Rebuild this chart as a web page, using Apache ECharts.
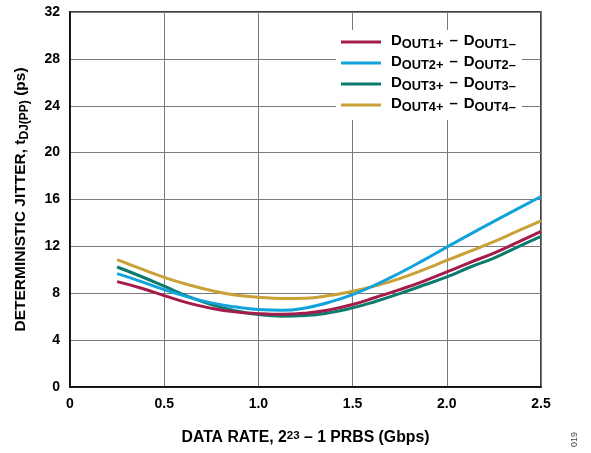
<!DOCTYPE html>
<html>
<head>
<meta charset="utf-8">
<script src="https://cdn.jsdelivr.net/npm/echarts@6/dist/echarts.min.js"></script>
<style>
html,body{margin:0;padding:0;background:#fff;}
#chart{width:591px;height:453px;}
</style>
</head>
<body>
<div id="chart"></div>
<script>
var xValues = [0.25, 0.375, 0.5, 0.625, 0.75, 0.875, 1.0, 1.125, 1.25, 1.375, 1.5, 1.625, 1.75, 1.875, 2.0, 2.125, 2.25, 2.375, 2.5];
var dout1 = [8.99, 8.45, 7.8, 7.18, 6.72, 6.41, 6.26, 6.2, 6.3, 6.58, 7.04, 7.66, 8.31, 9.02, 9.82, 10.64, 11.43, 12.34, 13.28];
var dout2 = [9.67, 9.02, 8.31, 7.69, 7.18, 6.84, 6.61, 6.55, 6.75, 7.23, 7.89, 8.74, 9.73, 10.81, 11.94, 13.05, 14.13, 15.2, 16.26];
var dout3 = [10.24, 9.45, 8.6, 7.74, 7.04, 6.52, 6.18, 6.04, 6.1, 6.33, 6.75, 7.32, 7.97, 8.68, 9.39, 10.24, 11.0, 11.94, 12.85];
var dout4 = [10.87, 10.1, 9.36, 8.74, 8.23, 7.86, 7.66, 7.55, 7.57, 7.8, 8.17, 8.65, 9.25, 10.0, 10.8, 11.6, 12.4, 13.3, 14.18];
var seriesNames = ['DOUT1', 'DOUT2', 'DOUT3', 'DOUT4'];
var seriesData = [dout1, dout2, dout3, dout4];
var colors = ['#a41c4c', '#12a3dc', '#0b7b6e', '#c9a136'];
var zOrder = [3, 4, 2, 2];

function pairs(ys) {
  return xValues.map(function (x, i) { return [x, ys[i]]; });
}

var FONT = '"Liberation Sans", Arial, sans-serif';
var chart = echarts.init(document.getElementById('chart'), null, {renderer: 'canvas'});

var option = {
  animation: false,
  backgroundColor: '#fff',
  grid: {
    left: 70, right: 50, top: 12, bottom: 65,
    show: true, borderColor: '#000', borderWidth: 1.5, backgroundColor: 'transparent'
  },
  legend: {
    orient: 'vertical',
    left: 336, top: 30,
    padding: [3, 6, 6, 5],
    backgroundColor: '#fff',
    itemWidth: 40, itemHeight: 14, itemGap: 3,
    data: seriesNames.map(function (n, i) {
      return {name: n, icon: 'path://M0,0 L40,0 L40,3 L0,3 Z', itemStyle: {color: colors[i]}};
    }),
    formatter: function (name) {
      var k = name.replace('DOUT', '');
      return '{d|D}{s|OUT' + k + '+}{g|–}{d|D}{s|OUT' + k + '–}';
    },
    textStyle: {
      fontFamily: FONT, fontWeight: 'bold', color: '#000',
      padding: [0, 0, 3, 5],
      rich: {
        d: {fontFamily: FONT, fontWeight: 'bold', fontSize: 15, lineHeight: 15, verticalAlign: 'top', color: '#000'},
        g: {fontFamily: FONT, fontWeight: 'bold', fontSize: 15, lineHeight: 15, verticalAlign: 'top', padding: [0, 6, 0, 6], color: '#000'},
        s: {fontFamily: FONT, fontWeight: 'bold', fontSize: 12.8, lineHeight: 12, padding: [5, 0, 0, 0], verticalAlign: 'top', color: '#000'}
      }
    }
  },
  xAxis: {
    type: 'value', min: 0, max: 2.5, interval: 0.5,
    axisLine: {show: true, lineStyle: {color: '#000', width: 1.5}},
    axisTick: {show: false},
    splitLine: {show: true, lineStyle: {color: '#7a7a7a', width: 1}},
    axisLabel: {
      margin: 10, color: '#000', fontFamily: FONT, fontWeight: 'bold', fontSize: 14,
      formatter: function (v) { return v === 0 ? '0' : v.toFixed(1); }
    },
    name: '{m|DATA RATE, 2}{p|23}{m| – 1 PRBS (Gbps)}',
    nameLocation: 'middle', nameGap: 43,
    nameTextStyle: {
      fontFamily: FONT, fontWeight: 'bold', color: '#000',
      rich: {
        m: {fontFamily: FONT, fontWeight: 'bold', fontSize: 15.8, lineHeight: 16, verticalAlign: 'bottom', color: '#000'},
        p: {fontFamily: FONT, fontWeight: 'bold', fontSize: 11.5, lineHeight: 12, padding: [0, 0, 6, 0], verticalAlign: 'top', color: '#000'}
      }
    }
  },
  yAxis: {
    type: 'value', min: 0, max: 32, interval: 4,
    axisLine: {show: true, lineStyle: {color: '#000', width: 1.5}},
    axisTick: {show: false},
    splitLine: {show: true, lineStyle: {color: '#7a7a7a', width: 1}},
    axisLabel: {margin: 10, color: '#000', fontFamily: FONT, fontWeight: 'bold', fontSize: 14},
    name: '{m|DETERMINISTIC JITTER, t}{s|DJ(PP)}{m| (ps)}',
    nameLocation: 'middle', nameGap: 41,
    nameTextStyle: {
      fontFamily: FONT, fontWeight: 'bold', color: '#000',
      rich: {
        m: {fontFamily: FONT, fontWeight: 'bold', fontSize: 15.5, lineHeight: 16, verticalAlign: 'top', color: '#000'},
        s: {fontFamily: FONT, fontWeight: 'bold', fontSize: 12, lineHeight: 12, padding: [6, 0, 0, 0], verticalAlign: 'top', color: '#000'}
      }
    }
  },
  graphic: [{
    type: 'text', x: 570, y: 447, rotation: Math.PI / 2,
    style: {text: '019', fontFamily: FONT, fontSize: 9, fill: '#444'}
  }],
  series: seriesNames.map(function (n, i) {
    return {
      name: n, type: 'line', smooth: true, showSymbol: false, symbol: 'none',
      data: pairs(seriesData[i]),
      lineStyle: {color: colors[i], width: 3},
      itemStyle: {color: colors[i]},
      z: zOrder[i]
    };
  })
};
chart.setOption(option);
</script>
</body>
</html>
